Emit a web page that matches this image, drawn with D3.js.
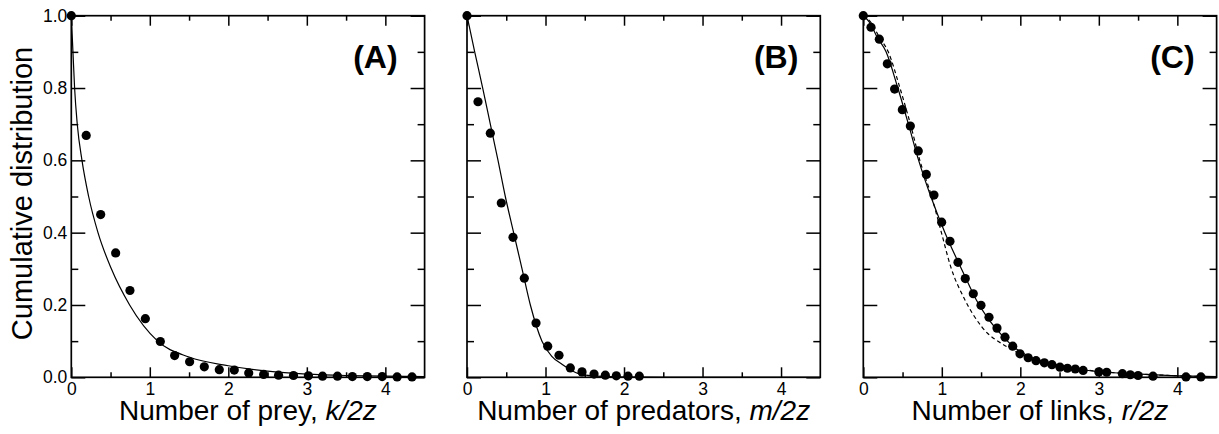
<!DOCTYPE html>
<html>
<head>
<meta charset="utf-8">
<script src="https://cdn.jsdelivr.net/npm/d3@7"></script>
<style>
  html, body { margin: 0; padding: 0; background: #fff; }
  svg { display: block; }
  text { font-family: "Liberation Sans", Arial, Helvetica, sans-serif; fill: #000; }
</style>
</head>
<body>
<script>
// ---------- data ----------
// (A) prey
const preyX = [0, 0.19, 0.374, 0.565, 0.747, 0.943, 1.134, 1.316, 1.507, 1.694, 1.885, 2.076, 2.26, 2.45, 2.64, 2.83, 3.02, 3.20, 3.39, 3.58, 3.77, 3.96, 4.15, 4.34];
const preyY = [1.0, 0.669, 0.450, 0.344, 0.240, 0.162, 0.099, 0.060, 0.043, 0.029, 0.021, 0.020, 0.012, 0.008, 0.006, 0.005, 0.004, 0.003, 0.003, 0.002, 0.002, 0.002, 0.001, 0.001];
const preyFitX = [0, 0.021, 0.042, 0.076, 0.136, 0.221, 0.34, 0.51, 0.743, 1.1, 1.5, 2.0, 2.5, 3.0, 3.5, 4.0, 4.5];
const preyFitY = [1, 0.9, 0.8, 0.7, 0.6, 0.5, 0.4, 0.3, 0.2, 0.1, 0.056, 0.032, 0.017, 0.009, 0.005, 0.003, 0.002];
// (B) predators
const predX = [0, 0.140, 0.297, 0.437, 0.586, 0.730, 0.879, 1.028, 1.172, 1.316, 1.465, 1.618, 1.762, 1.902, 2.051, 2.195];
const predY = [1, 0.762, 0.675, 0.482, 0.387, 0.274, 0.150, 0.086, 0.061, 0.026, 0.015, 0.009, 0.006, 0.004, 0.003, 0.003];
const predFitX = [0, 0.098, 0.2, 0.297, 0.395, 0.488, 0.594, 0.701, 0.807, 0.955, 1.08, 1.21, 1.42, 1.64, 2.0, 2.5, 3.0, 4.5];
const predFitY = [1, 0.9, 0.8, 0.7, 0.6, 0.5, 0.4, 0.3, 0.2, 0.1, 0.058, 0.036, 0.01, 0.003, 0.0005, 0, 0, 0];
// (C) links
const linkX = [0, 0.098, 0.204, 0.306, 0.399, 0.497, 0.599, 0.70, 0.803, 0.9, 0.998, 1.104, 1.206, 1.299, 1.401, 1.499, 1.601, 1.703, 1.805, 1.903, 1.996, 2.1, 2.2, 2.306, 2.403, 2.505, 2.6, 2.7, 2.8, 3.0, 3.1, 3.3, 3.4, 3.5, 3.69, 4.11, 4.3];
const linkY = [1, 0.968, 0.935, 0.867, 0.797, 0.740, 0.695, 0.626, 0.561, 0.504, 0.429, 0.376, 0.318, 0.273, 0.231, 0.199, 0.166, 0.136, 0.111, 0.086, 0.065, 0.054, 0.046, 0.040, 0.035, 0.028, 0.025, 0.023, 0.019, 0.015, 0.014, 0.010, 0.007, 0.005, 0.003, 0.001, 0.001];
const linkFitX = [0, 0.085, 0.17, 0.29, 0.44, 0.575, 0.705, 0.86, 1.04, 1.21, 1.317, 1.44, 1.572, 1.741, 1.911, 2.12, 2.38, 2.675, 2.97, 3.4, 3.8, 4.2, 4.5];
const linkFitY = [1, 0.98, 0.943, 0.9, 0.8, 0.7, 0.6, 0.5, 0.4, 0.318, 0.269, 0.214, 0.168, 0.122, 0.085, 0.057, 0.039, 0.025, 0.016, 0.01, 0.006, 0.003, 0.002];
const linkAltX = [0, 0.106, 0.2, 0.318, 0.467, 0.6, 0.72, 0.87, 0.995, 1.113, 1.295, 1.507, 1.826, 2.0, 2.21, 2.55, 2.97, 3.4, 3.8, 4.2, 4.5];
const linkAltY = [1, 0.979, 0.942, 0.9, 0.8, 0.7, 0.6, 0.5, 0.4, 0.306, 0.214, 0.14, 0.085, 0.065, 0.05, 0.031, 0.017, 0.01, 0.006, 0.003, 0.002];

// ticks and labels
const xMajorTicks = [0, 1, 2, 3, 4];
const xMinorTicks = [0.5, 1.5, 2.5, 3.5];
const yMajorTicks = [0, 0.2, 0.4, 0.6, 0.8, 1.0];
const yMinorTicks = [0.1, 0.3, 0.5, 0.7, 0.9];
const xDomain = [0, 4.5];
const yDomain = [0, 1];
const panelLabels = ["(A)", "(B)", "(C)"];
const xTitlePlain = ["Number of prey, ", "Number of predators, ", "Number of links, "];
const xTitleItalic = ["k/2z", "m/2z", "r/2z"];
const yTitle = "Cumulative distribution";

// ---------- layout ----------
const W = 1219, H = 434;
const panelLeft = [71.3, 467, 863.3];
const pw = 353.3, ph = 361.6, plotTop = 15.7;
const labelInset = [27, 22, 22];
const zip = (xs, ys) => xs.map((v, i) => [v, ys[i]]);

const panels = [
  { dots: zip(preyX, preyY), fits: [{ pts: zip(preyFitX, preyFitY), dash: null }] },
  { dots: zip(predX, predY), fits: [{ pts: zip(predFitX, predFitY), dash: null }] },
  { dots: zip(linkX, linkY), fits: [{ pts: zip(linkFitX, linkFitY), dash: null }, { pts: zip(linkAltX, linkAltY), dash: "4,3" }] }
];

const svg = d3.select("body").append("svg").attr("width", W).attr("height", H);

const styleAxis = (sel) => {
  sel.select(".domain").remove();
  sel.selectAll("line").attr("stroke", "#000").attr("stroke-width", 1.5);
  sel.selectAll("text").attr("font-size", 17.5).attr("font-family", "'Liberation Sans', Arial, sans-serif").attr("fill", "#000");
};

panels.forEach((p, i) => {
  const g = svg.append("g").attr("transform", `translate(${panelLeft[i]},${plotTop})`);
  const x = d3.scaleLinear().domain(xDomain).range([0, pw]);
  const y = d3.scaleLinear().domain(yDomain).range([ph, 0]);

  // bottom
  g.append("g").attr("transform", `translate(0,${ph})`)
    .call(d3.axisBottom(x).tickValues(xMajorTicks).tickSize(-10).tickPadding(5.5).tickFormat(d3.format("d"))).call(styleAxis);
  g.append("g").attr("transform", `translate(0,${ph})`)
    .call(d3.axisBottom(x).tickValues(xMinorTicks).tickSize(-5).tickFormat("")).call(styleAxis);
  // top
  g.append("g").call(d3.axisTop(x).tickValues(xMajorTicks).tickSize(-10).tickFormat("")).call(styleAxis);
  g.append("g").call(d3.axisTop(x).tickValues(xMinorTicks).tickSize(-5).tickFormat("")).call(styleAxis);
  // left
  g.append("g")
    .call(d3.axisLeft(y).tickValues(yMajorTicks).tickSize(-14).tickPadding(4).tickFormat(i === 0 ? d3.format(".1f") : "")).call(styleAxis);
  g.append("g").call(d3.axisLeft(y).tickValues(yMinorTicks).tickSize(-7).tickFormat("")).call(styleAxis);
  // right
  g.append("g").attr("transform", `translate(${pw},0)`)
    .call(d3.axisRight(y).tickValues(yMajorTicks).tickSize(-14).tickFormat("")).call(styleAxis);
  g.append("g").attr("transform", `translate(${pw},0)`)
    .call(d3.axisRight(y).tickValues(yMinorTicks).tickSize(-7).tickFormat("")).call(styleAxis);

  // frame
  g.append("rect").attr("x", 0).attr("y", 0).attr("width", pw).attr("height", ph)
    .attr("fill", "none").attr("stroke", "#000").attr("stroke-width", 1.7);

  // fitted curves
  const line = d3.line().x(d => x(d[0])).y(d => y(d[1])).curve(d3.curveMonotoneX);
  p.fits.forEach(f => {
    g.append("path").attr("d", line(f.pts)).attr("fill", "none").attr("stroke", "#000")
      .attr("stroke-width", 1.2).attr("stroke-dasharray", f.dash);
  });

  // data points
  g.selectAll("circle.pt").data(p.dots).enter().append("circle").attr("class", "pt")
    .attr("cx", d => x(d[0])).attr("cy", d => y(d[1])).attr("r", 4.6).attr("fill", "#000");

  // panel label
  g.append("text").attr("x", pw - labelInset[i]).attr("y", 52).attr("text-anchor", "end")
    .attr("font-size", 32).attr("font-weight", "bold").text(panelLabels[i]);

  // x title
  const t = g.append("text").attr("x", pw / 2).attr("y", ph + 42.5).attr("text-anchor", "middle").attr("font-size", 28);
  t.append("tspan").text(xTitlePlain[i]);
  t.append("tspan").attr("font-style", "italic").text(xTitleItalic[i]);
});

// y title
svg.append("text").attr("transform", `translate(32,${plotTop + ph / 2 - 3}) rotate(-90)`)
  .attr("text-anchor", "middle").attr("font-size", 29).text(yTitle);
</script>
</body>
</html>
